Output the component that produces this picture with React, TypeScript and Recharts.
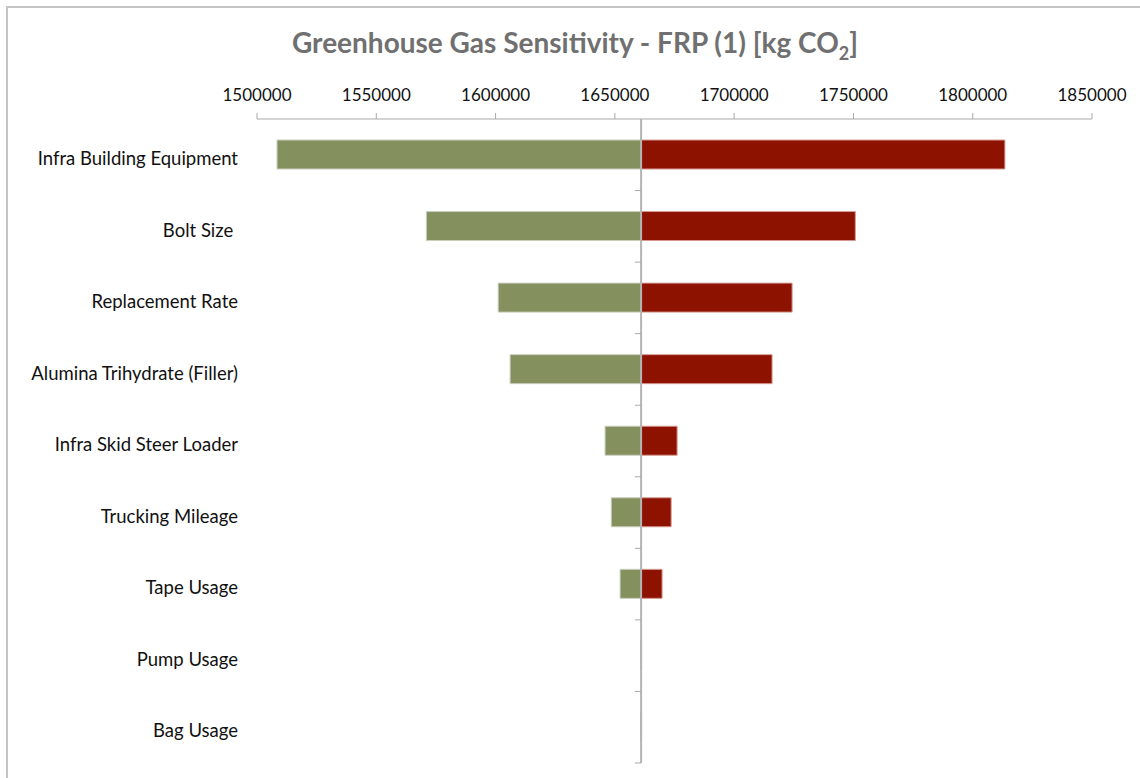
import { BarChart, Bar, XAxis, YAxis, ReferenceLine } from 'recharts'

// Tornado chart: each driver swung low (green) and high (red) around the base case
const BASE = 1661000

const categories = [
  'Infra Building Equipment',
  'Bolt Size ',
  'Replacement Rate',
  'Alumina Trihydrate (Filler)',
  'Infra Skid Steer Loader',
  'Trucking Mileage',
  'Tape Usage',
  'Pump Usage',
  'Bag Usage',
]
const lowValues = [1508400, 1571000, 1601100, 1606100, 1645900, 1648500, 1652200, 1660900, 1660900]
const highValues = [1813500, 1750800, 1724300, 1715900, 1676100, 1673600, 1669800, 1661200, 1661200]

const xTicks = [1500000, 1550000, 1600000, 1650000, 1700000, 1750000, 1800000, 1850000]

const GREEN = '#84915f'
const RED = '#8d1200'
const AXIS = '#a9a9a9'
const FONT = 'Lato, "Open Sans", sans-serif'

const data = categories.map((name, i) => ({
  name,
  low: [lowValues[i], BASE],
  high: [BASE, highValues[i]],
}))

interface TickProps {
  x?: number
  y?: number
  payload?: { value: string }
}

function CategoryTick({ x = 0, y = 0, payload }: TickProps) {
  return (
    <text
      x={x}
      y={y}
      dy="0.55em"
      textAnchor="end"
      fill="#111"
      fontSize={18.5}
      fontFamily={FONT}
      style={{ whiteSpace: 'pre' }}
    >
      {payload?.value}
    </text>
  )
}

export default function App() {
  return (
    <div style={{ position: 'absolute', left: 0, top: 0, width: 1140, height: 778, overflow: 'hidden', background: '#fff' }}>
      <div
        style={{
          position: 'absolute',
          left: 6,
          top: 6,
          width: 1160,
          height: 800,
          border: '2px solid #c4c4c4',
          boxSizing: 'border-box',
        }}
      />
      <div
        style={{
          position: 'absolute',
          left: 0,
          width: 1150,
          top: 25,
          textAlign: 'center',
          fontFamily: FONT,
          fontWeight: 700,
          fontSize: 28,
          color: '#707070',
        }}
      >
        Greenhouse Gas Sensitivity - FRP (1) [kg CO<sub style={{ fontSize: 18 }}>2</sub>]
      </div>
      <div style={{ position: 'absolute', left: 0, top: 0 }}>
        <BarChart
          width={1140}
          height={778}
          data={data}
          layout="vertical"
          margin={{ top: 59, right: 48, bottom: 15, left: 7 }}
        >
          <XAxis
            type="number"
            orientation="top"
            domain={[1500000, 1850000]}
            ticks={xTicks}
            allowDataOverflow
            height={60}
            tickSize={6}
            tickMargin={12}
            stroke={AXIS}
            tick={{ fill: '#111', fontSize: 17, fontFamily: FONT }}
          />
          <YAxis
            yAxisId="low"
            type="category"
            dataKey="name"
            width={250}
            axisLine={false}
            tickLine={false}
            tickSize={0}
            tickMargin={19}
            tick={<CategoryTick />}
          />
          <YAxis yAxisId="high" type="category" dataKey="name" width={0} hide />
          <Bar
            yAxisId="low"
            dataKey="low"
            fill={GREEN}
            stroke="#c9cdbd"
            strokeWidth={1}
            barSize={29}
            isAnimationActive={false}
          />
          <Bar
            yAxisId="high"
            dataKey="high"
            fill={RED}
            stroke="#d79a92"
            strokeWidth={1}
            barSize={29}
            isAnimationActive={false}
          />
          <ReferenceLine yAxisId="low" x={BASE} stroke="#b4b4b4" strokeWidth={2} />
          {/* short marks at the lower edge of every category band */}
          {categories.map((name) => (
            <ReferenceLine
              key={name}
              yAxisId="low"
              position="end"
              segment={[
                { x: BASE - 2600, y: name },
                { x: BASE, y: name },
              ]}
              stroke={AXIS}
              strokeWidth={1}
            />
          ))}
        </BarChart>
      </div>
    </div>
  )
}
